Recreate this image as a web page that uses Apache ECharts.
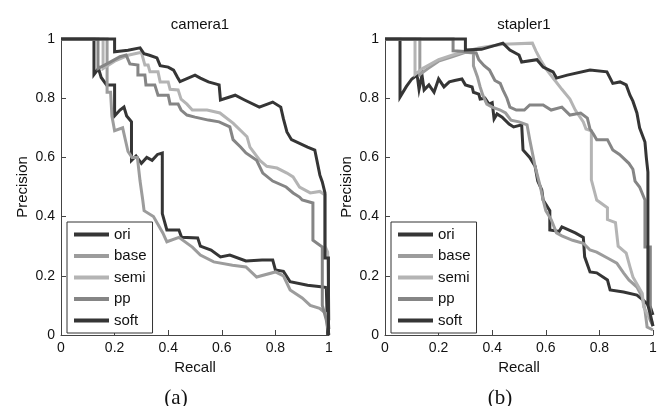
<!DOCTYPE html>
<html><head><meta charset="utf-8">
<script src="https://cdn.jsdelivr.net/npm/echarts@6/dist/echarts.min.js"></script>
<style>html,body{margin:0;padding:0;background:#fff}#c{width:661px;height:406px}</style>
</head><body><div id="c"></div>
<script>
// ---- data: [recall, precision] ----
const seriesNames = ['ori', 'base', 'semi', 'pp', 'soft'];
const panelTitles = ['camera1', 'stapler1'];
const panelLabels = ['(a)', '(b)'];
const axisTicks = [0, 0.2, 0.4, 0.6, 0.8, 1];

const camera1_ori = [[0,1],[0.123,1],[0.123,0.88],[0.14,0.9],[0.15,0.87],[0.17,0.845],[0.2,0.845],[0.2,0.74],[0.22,0.76],[0.235,0.77],[0.245,0.74],[0.263,0.72],[0.263,0.59],[0.28,0.605],[0.3,0.58],[0.32,0.6],[0.34,0.59],[0.36,0.61],[0.378,0.615],[0.378,0.41],[0.395,0.355],[0.44,0.355],[0.45,0.33],[0.51,0.328],[0.52,0.3],[0.56,0.287],[0.595,0.264],[0.63,0.27],[0.69,0.25],[0.75,0.253],[0.79,0.253],[0.8,0.22],[0.83,0.215],[0.855,0.18],[0.92,0.168],[0.97,0.163],[0.99,0.16],[0.995,0]];
const camera1_base = [[0,1],[0.172,1],[0.172,0.82],[0.185,0.82],[0.19,0.74],[0.2,0.69],[0.23,0.7],[0.25,0.62],[0.265,0.6],[0.285,0.6],[0.295,0.52],[0.305,0.456],[0.31,0.42],[0.345,0.4],[0.38,0.345],[0.395,0.315],[0.44,0.33],[0.49,0.297],[0.52,0.27],[0.57,0.247],[0.64,0.236],[0.69,0.23],[0.73,0.196],[0.8,0.213],[0.83,0.2],[0.855,0.152],[0.9,0.125],[0.93,0.1],[0.965,0.09],[0.995,0.068],[1,0.02]];
const camera1_semi = [[0,1],[0.157,1],[0.157,0.9],[0.2,0.925],[0.25,0.945],[0.3,0.955],[0.313,0.912],[0.325,0.912],[0.332,0.889],[0.362,0.889],[0.37,0.855],[0.4,0.855],[0.407,0.83],[0.437,0.828],[0.448,0.797],[0.47,0.78],[0.49,0.76],[0.545,0.76],[0.593,0.75],[0.642,0.716],[0.694,0.67],[0.705,0.635],[0.742,0.59],[0.768,0.57],[0.806,0.564],[0.843,0.547],[0.866,0.534],[0.89,0.5],[0.93,0.48],[0.966,0.485],[0.985,0.473],[0.985,0.3],[0.995,0.28],[1,0.05]];
const camera1_pp = [[0,1],[0.138,1],[0.138,0.9],[0.18,0.92],[0.22,0.94],[0.243,0.946],[0.257,0.916],[0.287,0.912],[0.287,0.878],[0.313,0.878],[0.317,0.845],[0.35,0.845],[0.362,0.81],[0.4,0.81],[0.407,0.78],[0.437,0.78],[0.448,0.76],[0.47,0.743],[0.5,0.736],[0.55,0.726],[0.59,0.72],[0.63,0.703],[0.642,0.66],[0.67,0.635],[0.69,0.615],[0.73,0.59],[0.753,0.547],[0.79,0.52],[0.84,0.5],[0.866,0.48],[0.89,0.466],[0.9,0.456],[0.94,0.446],[0.94,0.32],[0.975,0.297],[0.975,0.1],[0.99,0.05],[1,0]];
const camera1_soft = [[0,1],[0.2,1],[0.2,0.957],[0.25,0.962],[0.295,0.97],[0.31,0.95],[0.33,0.945],[0.358,0.936],[0.37,0.91],[0.4,0.905],[0.42,0.895],[0.435,0.87],[0.444,0.856],[0.5,0.878],[0.52,0.868],[0.55,0.855],[0.59,0.845],[0.595,0.794],[0.65,0.81],[0.685,0.794],[0.74,0.77],[0.79,0.787],[0.82,0.77],[0.83,0.73],[0.843,0.686],[0.86,0.66],[0.92,0.635],[0.947,0.625],[0.966,0.54],[0.975,0.517],[0.985,0.48],[0.985,0.26],[0.998,0.26],[0.998,0]];

const stapler1_ori = [[0,1],[0.056,1],[0.056,0.804],[0.08,0.84],[0.1,0.865],[0.12,0.878],[0.127,0.83],[0.138,0.878],[0.146,0.828],[0.164,0.845],[0.183,0.82],[0.2,0.865],[0.22,0.838],[0.24,0.855],[0.26,0.86],[0.287,0.865],[0.3,0.845],[0.325,0.838],[0.33,0.82],[0.35,0.814],[0.355,0.797],[0.373,0.8],[0.388,0.78],[0.4,0.785],[0.407,0.73],[0.418,0.747],[0.437,0.736],[0.463,0.713],[0.48,0.703],[0.51,0.71],[0.515,0.625],[0.54,0.6],[0.56,0.57],[0.57,0.52],[0.585,0.49],[0.59,0.456],[0.615,0.42],[0.615,0.355],[0.65,0.35],[0.66,0.365],[0.71,0.345],[0.74,0.33],[0.745,0.264],[0.765,0.213],[0.79,0.21],[0.83,0.186],[0.84,0.152],[0.89,0.145],[0.94,0.135],[0.963,0.118],[0.99,0.095],[1,0.068]];
const stapler1_base = [[0,1],[0.13,1],[0.13,0.88],[0.16,0.9],[0.2,0.925],[0.25,0.94],[0.3,0.955],[0.33,0.953],[0.33,0.91],[0.345,0.872],[0.355,0.838],[0.365,0.81],[0.38,0.78],[0.4,0.77],[0.43,0.76],[0.45,0.75],[0.47,0.726],[0.5,0.72],[0.53,0.71],[0.54,0.66],[0.56,0.57],[0.58,0.5],[0.59,0.456],[0.6,0.42],[0.62,0.39],[0.64,0.345],[0.66,0.335],[0.7,0.32],[0.74,0.31],[0.765,0.287],[0.79,0.28],[0.83,0.26],[0.865,0.243],[0.89,0.21],[0.91,0.186],[0.94,0.162],[0.96,0.128],[0.97,0.084],[0.978,0.027],[1,0.017]];
const stapler1_semi = [[0,1],[0.112,1],[0.112,0.88],[0.14,0.9],[0.2,0.93],[0.25,0.945],[0.3,0.958],[0.35,0.97],[0.44,0.982],[0.55,0.986],[0.563,0.96],[0.58,0.93],[0.6,0.9],[0.63,0.865],[0.66,0.83],[0.69,0.797],[0.71,0.76],[0.74,0.72],[0.75,0.696],[0.77,0.69],[0.77,0.524],[0.79,0.456],[0.83,0.43],[0.83,0.39],[0.86,0.38],[0.87,0.3],[0.9,0.277],[0.914,0.23],[0.925,0.196],[0.96,0.14],[0.965,0.095],[0.99,0.05],[1,0.04]];
const stapler1_pp = [[0,1],[0.254,1],[0.254,0.96],[0.3,0.958],[0.34,0.953],[0.35,0.93],[0.37,0.91],[0.39,0.895],[0.41,0.86],[0.43,0.85],[0.44,0.828],[0.455,0.8],[0.466,0.77],[0.49,0.76],[0.52,0.76],[0.54,0.777],[0.59,0.777],[0.62,0.76],[0.66,0.77],[0.69,0.743],[0.73,0.75],[0.755,0.733],[0.765,0.696],[0.777,0.68],[0.79,0.66],[0.83,0.66],[0.85,0.625],[0.875,0.61],[0.91,0.58],[0.925,0.56],[0.933,0.52],[0.95,0.5],[0.97,0.456],[0.97,0.297],[0.99,0.297],[0.99,0.05],[1,0.03]];
const stapler1_soft = [[0,1],[0.3,1],[0.3,0.963],[0.36,0.965],[0.44,0.986],[0.466,0.963],[0.5,0.946],[0.51,0.922],[0.567,0.93],[0.59,0.905],[0.627,0.889],[0.64,0.868],[0.68,0.878],[0.765,0.895],[0.828,0.889],[0.85,0.85],[0.877,0.855],[0.9,0.845],[0.914,0.81],[0.925,0.79],[0.94,0.75],[0.95,0.7],[0.97,0.652],[0.975,0.6],[0.981,0.55],[0.981,0.1],[0.99,0.07],[1,0.03]];

const panelData = [
  [camera1_ori, camera1_base, camera1_semi, camera1_pp, camera1_soft],
  [stapler1_ori, stapler1_base, stapler1_semi, stapler1_pp, stapler1_soft]
];
const seriesColors = ['#353535', '#9c9c9c', '#b4b4b4', '#858585', '#353535'];

// ---- layout ----
const grids = [{left: 61, top: 39, width: 268, height: 296}, {left: 385, top: 39, width: 268, height: 296}];
const font = 'Liberation Sans, Arial, sans-serif';

const option = {
  animation: false,
  backgroundColor: '#fff',
  title: [],
  legend: [],
  grid: grids,
  xAxis: [], yAxis: [], series: []
};
grids.forEach((g, i) => {
  const cx = g.left + g.width / 2;
  option.title.push({text: panelTitles[i], left: cx, top: 12, textAlign: 'center',
    textStyle: {fontFamily: font, fontSize: 15, fontWeight: 'normal', color: '#111'}});
  option.title.push({text: panelLabels[i], left: g.left + 110, top: 383, textAlign: 'center',
    textStyle: {fontFamily: 'Liberation Serif, Times New Roman, serif', fontSize: 21, fontWeight: 'normal', color: '#111'}});
  option.legend.push({
    data: seriesNames, orient: 'vertical', left: g.left + 6, top: 222,
    icon: 'rect', itemWidth: 35, itemHeight: 4, itemGap: 6.5,
    padding: [5, 6, 5, 7], borderColor: '#333', borderWidth: 1, backgroundColor: '#fff',
    textStyle: {fontFamily: font, fontSize: 15, color: '#111', lineHeight: 15}
  });
  const axCommon = {
    gridIndex: i, type: 'value', min: 0, max: 1, interval: 0.2,
    splitLine: {show: false},
    axisLine: {show: true, onZero: false, lineStyle: {color: '#444', width: 1}},
    axisTick: {show: true, inside: true, length: 5, lineStyle: {color: '#444'}},
    axisLabel: {fontFamily: font, fontSize: 14, color: '#111', margin: 6,
      formatter: v => String(Math.round(v * 10) / 10)},
    nameLocation: 'middle',
    nameTextStyle: {fontFamily: font, fontSize: 15, color: '#111'}
  };
  option.xAxis.push(Object.assign({}, axCommon, {name: 'Recall', nameGap: 22}));
  option.yAxis.push(Object.assign({}, axCommon, {name: 'Precision', nameGap: 31, nameRotate: 90}));
  panelData[i].forEach((d, k) => {
    option.series.push({
      name: seriesNames[k], type: 'line', xAxisIndex: i, yAxisIndex: i,
      data: d, showSymbol: false, symbol: 'none', clip: false,
      lineStyle: {color: seriesColors[k], width: 3, join: 'miter'},
      itemStyle: {color: seriesColors[k]}, z: 2 + k
    });
  });
});
const chart = echarts.init(document.getElementById('c'), null, {renderer: 'canvas'});
chart.setOption(option);
</script></body></html>
